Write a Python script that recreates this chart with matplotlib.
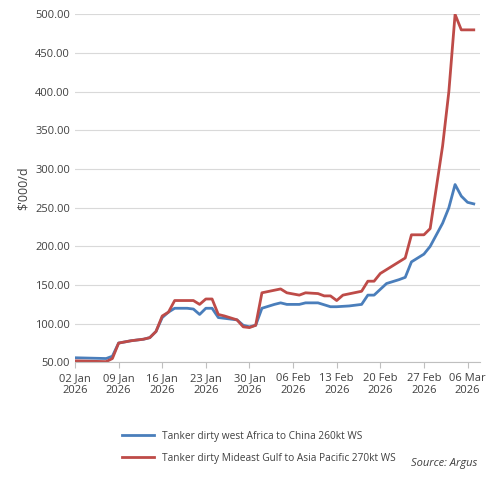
import numpy as np
import matplotlib
matplotlib.use("Agg")
import matplotlib.pyplot as plt
import matplotlib.dates as mdates

start = np.datetime64("2026-01-02")

blue_days = [0, 5, 6, 7, 9, 11, 12, 13, 14, 15, 16, 18, 19, 20, 21, 22, 23, 24, 26, 27, 28, 29,
             30, 32, 33, 34, 36, 37, 39, 41, 42, 44, 46, 47, 48, 50, 52, 53, 54, 56, 57, 59,
             60, 61, 62, 63, 64]
blue_vals = [56, 55, 58, 75, 78, 80, 82, 90, 108, 115, 120, 120, 119, 112, 120, 120, 108, 107,
             105, 98, 96, 98, 120, 125, 127, 125, 125, 127, 127, 122, 122, 123, 125, 137, 137,
             152, 157, 160, 180, 190, 200, 230, 250, 280, 265, 257, 255]

red_days = [0, 5, 6, 7, 9, 11, 12, 13, 14, 15, 16, 19, 20, 21, 22, 23, 24, 26, 27, 28, 29, 30,
            33, 34, 36, 37, 39, 40, 41, 42, 43, 46, 47, 48, 49, 53, 54, 56, 57, 59, 60, 61, 62, 64]
red_vals = [52, 51, 55, 75, 78, 80, 82, 90, 110, 115, 130, 130, 125, 132, 132, 112, 110, 105,
            96, 95, 98, 140, 145, 140, 137, 140, 139, 136, 136, 130, 137, 142, 155, 155, 165,
            185, 215, 215, 223, 330, 400, 500, 480, 480]

blue_label = "Tanker dirty west Africa to China 260kt WS"
red_label = "Tanker dirty Mideast Gulf to Asia Pacific 270kt WS"

blue_x = (start + np.array(blue_days)).astype("datetime64[D]").astype(object)
red_x = (start + np.array(red_days)).astype("datetime64[D]").astype(object)

plt.rcParams["font.family"] = ["Open Sans", "DejaVu Sans"]
fig = plt.figure(figsize=(5.0, 4.8), dpi=100)
ax = fig.add_axes([0.15, 0.245, 0.81, 0.725])

ax.plot(blue_x, blue_vals, color="#4a7ebb", lw=2.0, label=blue_label)
ax.plot(red_x, red_vals, color="#be4b48", lw=2.0, label=red_label)

ax.set_ylim(50, 500)
ax.set_yticks(np.arange(50, 501, 50))
ax.yaxis.set_major_formatter(plt.FuncFormatter(lambda y, _: f"{y:.2f}"))
ax.set_xlim(start.astype(object), (start + 65).astype(object))
ax.set_xticks([(start + 7 * i).astype(object) for i in range(10)])
ax.xaxis.set_major_formatter(mdates.DateFormatter("%d %b\n%Y"))
ax.tick_params(labelsize=8, colors="#404040", length=0)
ax.tick_params(axis="x", length=4, color="#bfbfbf", direction="out")
ax.grid(axis="y", color="#d9d9d9", lw=0.8)
ax.set_axisbelow(True)
for s in ["top", "right", "left"]:
    ax.spines[s].set_visible(False)
ax.spines["bottom"].set_color("#bfbfbf")
ax.set_ylabel("$'000/d", fontsize=9, color="#404040")

fig.legend(loc="lower left", bbox_to_anchor=(0.225, 0.015), frameon=False, fontsize=7.3,
           handlelength=3.2, labelspacing=1.1, labelcolor="#404040")
fig.text(0.955, 0.03, "Source: Argus", ha="right", fontsize=8, style="italic", color="#404040")

fig.savefig("out.png", dpi=100)
